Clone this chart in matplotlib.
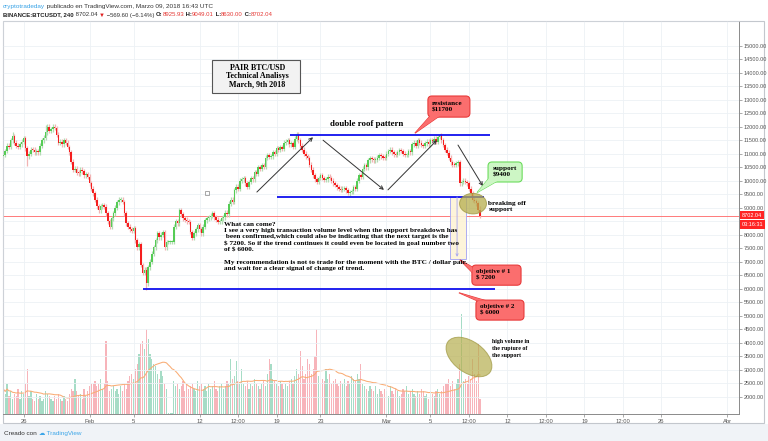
import numpy as np
import pandas as pd
import matplotlib
matplotlib.use("Agg")
import matplotlib.pyplot as plt
from matplotlib import transforms
from matplotlib.patches import Rectangle, Ellipse, FancyBboxPatch, Polygon

# BINANCE:BTCUSDT 240 min closes, Jan 24 04:00 -> Mar 9 12:00 (Feb 8 outage bars missing)
first_open = 10900
closes_a = [10950, 11100, 11300, 11250, 11500, 11650, 11400, 11300, 11250, 11350,
            11450, 11580, 11200, 10900, 11000, 11150, 11140, 11050, 11100, 11060,
            11300, 11500, 11600, 11800, 12000, 11850, 11900, 12000, 11950, 11700,
            11400, 11450, 11350, 11500, 11400, 11250, 11060, 10700, 10400, 10450,
            10300, 10280, 10400, 10350, 10200, 10250, 10140, 9900, 9700, 9540]
closes_b = [9300, 9050, 8900, 9050, 9100, 9030, 8800, 8500, 8290, 8600,
            8800, 9000, 9200, 9290, 9300, 9210, 8800, 8430, 8300, 8200,
            8150, 8250, 7800, 7540, 7650, 6880, 6580, 6700, 6200, 6800,
            7000, 7300, 7540, 7800, 8060, 7900, 8000, 8100, 7540, 7730,
            7730, 7730, 7730, 8290, 8500, 8420, 8900, 8750, 8610, 8550]
closes_c = [8500, 8470, 8100, 7880, 8050, 8200, 8360, 8200, 8060, 8300,
            8540, 8600, 8650, 8700, 8800, 8650, 8550, 8470, 8500, 8600,
            8650, 8820, 8760, 9150, 9290, 9220, 9650, 9770, 9700, 10000,
            10050, 10100, 9900, 9770, 9950, 10100, 10050, 10320, 10250, 10500,
            10450, 10580, 10520, 10850, 10950, 10880, 10900, 11050, 11000, 11200]
closes_d = [11150, 11250, 11180, 11400, 11450, 11510, 11350, 11380, 11250, 11550,
            11700, 11500, 11300, 11140, 11000, 10900, 10840, 10600, 10400, 10200,
            10050, 9950, 10100, 10210, 10100, 10025, 10050, 10150, 10100, 10000,
            9900, 9840, 9750, 9700, 9660, 9700, 9730, 9650, 9550, 9580,
            9600, 9750, 9700, 10000, 10210, 10150, 10450, 10580, 10500, 10750]
closes_e = [10840, 10800, 10750, 10770, 10850, 10950, 10900, 10850, 10840, 11000,
            11100, 11140, 11050, 10980, 10950, 11050, 11130, 11100, 11000, 10950,
            10950, 11100, 11050, 11350, 11400, 11300, 11510, 11400, 11320, 11300,
            11380, 11450, 11350, 11510, 11480, 11550, 11450, 11620, 11690, 11500,
            11320, 11150, 11030, 10850, 10690, 10600, 10580, 10650, 10690, 9910,
            9950, 10000, 9950, 9910, 9700, 9540, 9290, 9250, 9170, 8926, 8702.04]

# volume, thousand BTC
vol_a = [10, 8, 12, 7, 9, 6, 8, 7, 10, 6, 9, 8, 12, 18, 7, 9, 6, 5, 8, 6,
         7, 5, 6, 9, 8, 7, 6, 5, 7, 6, 8, 6, 5, 7, 6, 5, 8, 10, 9, 14,
         9, 7, 8, 6, 10, 7, 9, 11, 12, 12]
vol_b = [13, 11, 12, 14, 10, 12, 29, 13, 9, 10, 11, 9, 10, 8, 11, 9, 12, 10, 13, 15,
         16, 14, 18, 20, 24, 28, 29, 26, 34, 30, 24, 22, 20, 19, 16, 14, 17, 15, 12, 10,
         0.3, 0.2, 0.4, 13, 11, 12, 10, 11, 13, 9]
vol_c = [12, 10, 11, 12, 10, 9, 13, 11, 12, 10, 11, 9, 12, 10, 11, 13, 10, 9, 11, 12,
         10, 11, 13, 12, 22, 14, 15, 21, 13, 12, 18, 12, 11, 13, 10, 12, 11, 14, 12, 11,
         10, 12, 13, 11, 16, 22, 20, 14, 13, 12]
vol_d = [11, 13, 12, 10, 12, 11, 13, 14, 12, 15, 18, 16, 25, 19, 14, 16, 22, 20, 16, 18,
         23, 34, 15, 12, 14, 13, 18, 14, 16, 12, 13, 14, 12, 11, 13, 12, 14, 11, 13, 12,
         15, 14, 13, 16, 14, 20, 12, 11, 10, 9]
vol_e = [11, 10, 9, 11, 8, 10, 9, 8, 10, 9, 7, 11, 9, 8, 10, 9, 7, 8, 10, 9,
         11, 8, 9, 10, 8, 7, 9, 8, 10, 9, 7, 8, 6, 9, 8, 7, 9, 10, 8, 9,
         11, 12, 12, 14, 11, 13, 10, 12, 14, 20, 40, 13, 14, 12, 15, 14, 22, 16, 13, 28, 6]

wick_high = {5: 11800, 23: 12050, 27: 12100, 160: 11790, 238: 11720, 260: 9049.01}
wick_low = {13: 10560, 58: 8200, 78: 5950, 103: 7800, 189: 9420, 260: 8630.00}

last_price = 8702.04
resistance = 11700
support = 9400
objective_1 = 7200
objective_2 = 6000

tick_dates = ['2018-01-26', '2018-02-01', '2018-02-05', '2018-02-12', '2018-02-15 12:00',
              '2018-02-19', '2018-02-23', '2018-03-01', '2018-03-05', '2018-03-08 12:00',
              '2018-03-12', '2018-03-15 12:00', '2018-03-19', '2018-03-22 12:00',
              '2018-03-26', '2018-04-01']
tick_labels = ['26', 'Feb', '5', '12', '12:00', '19', '23', 'Mar', '5', '12:00',
               '12', '12:00', '19', '12:00', '26', 'Abr']
price_ticks = np.arange(2000, 15001, 500)

start = pd.Timestamp('2018-01-24 04:00')
gap_end = pd.Timestamp('2018-02-09 08:00')
gap_bars = 6


def bar_pos(t):
    t = pd.Timestamp(t)
    n = (t - start) / pd.Timedelta(hours=4)
    if t >= gap_end:
        n -= gap_bars
    return n


closes = np.array(closes_a + closes_b + closes_c + closes_d + closes_e, dtype=float)
vols = np.array(vol_a + vol_b + vol_c + vol_d + vol_e, dtype=float)
n = len(closes)
x = np.arange(n)
opens = np.r_[first_open, closes[:-1]]
opens[-1] = 8925.93
up = closes >= opens
highs = np.maximum(opens, closes) + 90
lows = np.minimum(opens, closes) - 90
for k, v in wick_high.items():
    highs[k] = v
for k, v in wick_low.items():
    lows[k] = v

W, H = 768, 441
fig = plt.figure(figsize=(W / 100, H / 100), dpi=100)
fig.patch.set_facecolor('white')


def fig_box(l, t, r, b):
    return [l / W, 1 - b / H, (r - l) / W, (b - t) / H]


ax = fig.add_axes(fig_box(3, 21, 739, 414))
axv = ax.twinx()
ax.set_zorder(axv.get_zorder() + 1)
ax.patch.set_visible(False)

# volume overlay
up_vol, down_vol = '#a6dcc6', '#f7b4ba'
axv.bar(x, vols, width=0.7, color=np.where(up, up_vol, down_vol), linewidth=0)
vol_ma = pd.Series(vols).rolling(20, min_periods=1).mean()
axv.plot(x, vol_ma, color='#f9ac74', lw=0.75)
axv.set_ylim(0, 157)
axv.axis('off')

# candles
up_c, down_c = '#55cc55', '#f51e1e'
wick_col = np.where(up, '#b3dcb3', '#f2b3b3')
ax.vlines(x, lows, highs, colors=wick_col, lw=0.9, zorder=2)
body_low = np.minimum(opens, closes)
body_h = np.maximum(np.abs(closes - opens), 40)
ax.bar(x, body_h, bottom=body_low, width=0.85, color=np.where(up, up_c, down_c),
       linewidth=0, zorder=3)

ax.axhline(last_price, color='#ff7a7a', lw=0.7, zorder=1)

ax.set_xlim(-0.2, 401.3)
ax.set_ylim(1359, 15915)
ax.set_xticks([bar_pos(d) for d in tick_dates], tick_labels)
# the 8500 label sits under the live price tags
ax.set_yticks(price_ticks, ['' if v == 8500 else f'{v:.2f}' for v in price_ticks])
ax.yaxis.tick_right()
ax.tick_params(axis='y', direction='out', length=2, width=0.5, color='#888888',
               labelsize=4.0, labelcolor='#555555', pad=1.5)
ax.tick_params(axis='x', direction='out', length=2, width=0.5, color='#888888',
               labelsize=4.2, labelcolor='#555555', pad=1.5)
for lab in ax.get_xticklabels() + ax.get_yticklabels():
    lab.set_family('Liberation Sans')
ax.grid(True, color='#edf1f5', lw=0.6, zorder=0)
ax.set_axisbelow(True)
for side in ['left', 'top']:
    ax.spines[side].set_color('#cfd3d9')
    ax.spines[side].set_linewidth(0.6)
for side in ['right', 'bottom']:
    ax.spines[side].set_color('#8a8a8a')
    ax.spines[side].set_linewidth(0.7)

# price tags on the axis
ax.annotate(f'{last_price:.2f}', xy=(1, last_price), xycoords=('axes fraction', 'data'),
            xytext=(2.2, 0.5), textcoords='offset points', ha='left', va='center',
            size=4.0, color='white', family='Liberation Sans', annotation_clip=False,
            bbox=dict(boxstyle='square,pad=0.3', fc='#ff2424', ec='none'))
ax.annotate('03:16:31', xy=(1, last_price), xycoords=('axes fraction', 'data'),
            xytext=(2.2, -6.3), textcoords='offset points', ha='left', va='center',
            size=4.0, color='white', family='Liberation Sans', annotation_clip=False,
            bbox=dict(boxstyle='square,pad=0.3', fc='#ff2424', ec='none'))

serif = 'Liberation Serif'

# title box
ax.add_patch(Rectangle((114, 13250), 48, 1230, fc='#f2f2f2', ec='#555555', lw=0.8, zorder=5))
ax.text(138.5, 13870, 'PAIR BTC/USD\nTechnical Analisys\nMarch, 9th 2018', ha='center',
        va='center', family=serif, weight='bold', size=5.8, linespacing=1.1, zorder=6)

# pattern lines
ax.hlines(resistance, 156.4, 265.5, color='#1010ee', lw=1.3, zorder=5)
ax.hlines(support, 149, 262, color='#1010ee', lw=1.3, zorder=5)
ax.hlines(objective_2, 76, 268, color='#1010ee', lw=1.3, zorder=5)
ax.text(198, 12100, 'double roof pattern', ha='center', va='center', family=serif,
        weight='bold', size=6.3, zorder=6)

arrows = [((138.3, 9580), (168.9, 11610)), ((174.4, 11500), (207.6, 9660)),
          ((209.8, 9660), (236.5, 11500)), ((248, 11320), (261.6, 9800))]
for a, b in arrows:
    ax.annotate('', xy=b, xytext=a, zorder=6,
                arrowprops=dict(arrowstyle='->', color='#333333', lw=0.7,
                                shrinkA=0, shrinkB=0, mutation_scale=6))


def callout(x0, x1, y0, y1, base, tip, text, fc, ec, size):
    aspect = (15915 - 1359) / 393 / ((401.5) / 736)
    pts = [base[0], base[1], tip]
    ax.add_patch(Polygon(pts, closed=True, fc=fc, ec=ec, lw=0.8, zorder=6))
    ax.add_patch(FancyBboxPatch((x0, y0), x1 - x0, y1 - y0,
                                boxstyle='round,pad=0,rounding_size=2.2',
                                mutation_aspect=aspect, fc=fc, ec=ec, lw=0.8, zorder=6))
    ax.add_patch(Polygon(pts, closed=True, fc=fc, ec='none', zorder=6))
    ax.text(x0 + 2.3, (y0 + y1) / 2, text, ha='left', va='center', family=serif,
            weight='bold', size=size, linespacing=1.35, zorder=7)


red_fc, red_ec = '#fb6e6e', '#e83a3a'
callout(231.6, 254.5, 12355, 13137, ((233.5, 12450), (238, 12400)), (224.5, 11760),
        'resistance\n$11700', red_fc, red_ec, 5.2)
callout(264.4, 283, 9952, 10693, ((265, 10100), (269.5, 9990)), (258.4, 9560),
        'support\n$9400', '#cdf6c5', '#6cdc5c', 5.2)
callout(255.6, 282.4, 6129, 6874, ((255.8, 6800), (255.8, 6600)), (249, 7070),
        'objetive # 1\n$ 7200', red_fc, red_ec, 5.0)
callout(257.8, 284, 4837, 5578, ((258.2, 5560), (263, 5560)), (248.5, 5850),
        'objetive # 2\n$ 6000', red_fc, red_ec, 5.0)

# target box
ax.add_patch(Rectangle((243.6, 7100), 8.8, support - 7100, fc='#fdf3d6', ec='#a4a4f2',
                       lw=0.7, alpha=0.9, zorder=4))
ax.annotate('', xy=(247.5, 7180), xytext=(247.5, support), zorder=5,
            arrowprops=dict(arrowstyle='->', color='#a4a4f2', lw=0.6,
                            shrinkA=0, shrinkB=0, mutation_scale=4))

ax.add_patch(Ellipse((256.2, 9150), 14.7, 760, fc='#b6ae4e', ec='#9d963e', lw=0.7,
                     alpha=0.75, zorder=6))
ax.text(264.6, 9050, 'breaking off\nsupport', ha='left', va='center', family=serif,
        weight='bold', size=5.2, linespacing=1.35, zorder=7)

vol_spot = fig.dpi_scale_trans + transforms.ScaledTranslation(254, 3470, ax.transData)
ax.add_patch(Ellipse((0, 0), 0.52, 0.31, angle=-36, transform=vol_spot, fc='#b6ae4e',
                     ec='#9d963e', lw=0.7, alpha=0.7, zorder=6))
ax.text(266.6, 4150, 'high volume in\nthe rupture of\nthe support', ha='left', va='top',
        family=serif, weight='bold', size=4.2, linespacing=1.5, zorder=7)

ax.plot([111], [9545], marker='s', ms=3, mfc='none', mec='#999999', mew=0.6, zorder=6)

note = ('What can come?\n'
        'I see a very high transaction volume level when the support breakdown has\n'
        ' been confirmed,which could also be indicating that the next target is the\n'
        '$ 7200. So if the trend continues it could even be located in goal number two\n'
        'of $ 6000.\n'
        '\n'
        'My recommendation is not to trade for the moment with the BTC / dollar pair.\n'
        'and wait for a clear signal of change of trend.')
ax.text(120.4, 8470, note, ha='left', va='top', family=serif, weight='bold', size=5.2,
        linespacing=1.3, zorder=7)

# panel frame and footer strip
fig.add_artist(Rectangle((0, 0), 1, 17 / H, transform=fig.transFigure, fc='#f0f3f7',
                         ec='none', zorder=-5))
fig.add_artist(Rectangle((3 / W, 1 - 423 / H), 761 / W, 402 / H, transform=fig.transFigure,
                         fill=False, ec='#c3c7cd', lw=0.8))


def write_line(parts, x0, y0, size):
    prev = None
    for txt, color, weight in parts:
        kw = dict(color=color, weight=weight, size=size, va='bottom', ha='left',
                  family=['Liberation Sans', 'DejaVu Sans'], annotation_clip=False)
        if prev is None:
            prev = ax.annotate(txt, xy=(x0, y0), xycoords='figure fraction', **kw)
        else:
            prev = ax.annotate(txt, xy=(1, 0), xycoords=prev, **kw)


write_line([('cryptotradeday', '#37a2e6', 'normal'),
            (' publicado en TradingView.com, Marzo 09, 2018 16:43 UTC', '#333333', 'normal')],
           3 / W, 1 - 9 / H, 4.6)
write_line([('BINANCE:BTCUSDT, 240', '#222222', 'bold'), (' 8702.04 ', '#333333', 'normal'),
            ('▼', '#e02020', 'normal'), (' \u2212569.60 (\u22126.14%) ', '#333333', 'normal'),
            ('O:', '#222222', 'bold'), ('8925.93', '#e53935', 'normal'),
            (' H:', '#222222', 'bold'), ('9049.01', '#e53935', 'normal'),
            (' L:', '#222222', 'bold'), ('8630.00', '#e53935', 'normal'),
            (' C:', '#222222', 'bold'), ('8702.04', '#e53935', 'normal')],
           3 / W, 1 - 17.5 / H, 4.3)
write_line([('Creado con ', '#333333', 'normal'), ('\u2601', '#3da6e8', 'normal'),
            (' TradingView', '#3da6e8', 'normal')], 4 / W, 1 - 436 / H, 4.6)

fig.savefig('out.png', dpi=100, facecolor=fig.get_facecolor())
